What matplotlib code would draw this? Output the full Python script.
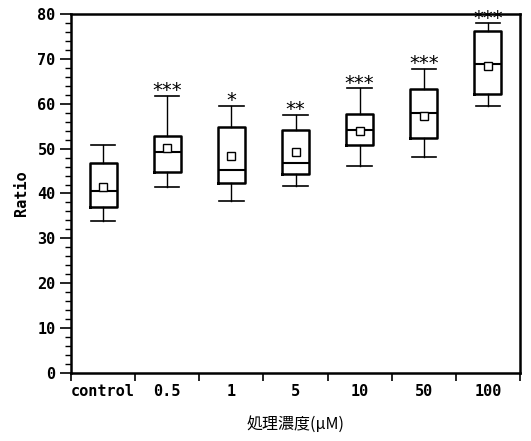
import numpy as np
import matplotlib
matplotlib.use('Agg')
import matplotlib.pyplot as plt
from matplotlib.ticker import MultipleLocator, FixedLocator

# values
groups = ['control', '0.5', '1', '5', '10', '50', '100']
whis_lo = [33.9, 41.4, 38.4, 41.7, 46.2, 48.2, 59.6]
q1 = [36.9, 44.7, 42.4, 44.3, 50.8, 52.4, 62.1]
median = [40.6, 49.2, 45.2, 46.7, 54.2, 57.9, 68.8]
q3 = [46.7, 52.7, 54.8, 54.1, 57.7, 63.2, 76.1]
whis_hi = [50.8, 61.8, 59.6, 57.5, 63.4, 67.7, 77.9]
means = [41.5, 50.2, 48.4, 49.3, 54.0, 57.3, 68.3]
signif = ['', '***', '*', '**', '***', '***', '***']

tick_font = {'family': 'DejaVu Sans Mono', 'weight': 'bold', 'size': 11}

fig = plt.figure(figsize=(5.31, 4.41), dpi=100)
ax = fig.add_axes([0.1337, 0.1542, 0.8456, 0.8141])

stats = []
for i in range(len(groups)):
    stats.append({'label': groups[i], 'whislo': whis_lo[i], 'q1': q1[i],
                  'med': median[i], 'q3': q3[i], 'whishi': whis_hi[i],
                  'mean': means[i]})

pos = np.arange(len(groups))
ax.bxp(stats, positions=pos, widths=0.42, capwidths=0.38,
       showmeans=True, showfliers=False,
       boxprops=dict(color='black', linewidth=1.8),
       medianprops=dict(color='black', linewidth=1.5),
       whiskerprops=dict(color='black', linewidth=1.0),
       capprops=dict(color='black', linewidth=1.2),
       meanprops=dict(marker='s', markersize=6, markerfacecolor='white',
                      markeredgecolor='black', markeredgewidth=1.0))

# significance stars just above the upper whisker
for x, top, s in zip(pos, whis_hi, signif):
    if s:
        ax.annotate(s, (x, top), xytext=(0, -3), textcoords='offset points',
                    ha='center', va='bottom', fontsize=14,
                    family='DejaVu Sans', clip_on=False)

ax.set_xlim(-0.5, len(groups) - 0.5)
ax.set_ylim(0, 80)

# category labels at centres, tick marks at group boundaries
ax.xaxis.set_major_locator(FixedLocator(pos))
ax.set_xticklabels(groups, fontdict=tick_font)
ax.xaxis.set_minor_locator(FixedLocator(np.arange(len(groups) + 1) - 0.5))
ax.tick_params(axis='x', which='major', length=0, pad=8)
ax.tick_params(axis='x', which='minor', length=6, width=1.2, direction='out')

ax.yaxis.set_major_locator(MultipleLocator(10))
ax.yaxis.set_minor_locator(MultipleLocator(2))
ax.tick_params(axis='y', which='major', length=8, width=1.2, pad=3)
ax.tick_params(axis='y', which='minor', length=4, width=1.0)
for lab in ax.get_yticklabels():
    lab.set_fontproperties(tick_font)

for sp in ax.spines.values():
    sp.set_linewidth(1.8)

ax.set_ylabel('Ratio', fontdict=tick_font, labelpad=6)
ax.set_xlabel('処理濃度(μM)', family=['Noto Sans CJK JP', 'DejaVu Sans'],
              fontsize=11.5, labelpad=12)

fig.savefig('out.png', dpi=100)
